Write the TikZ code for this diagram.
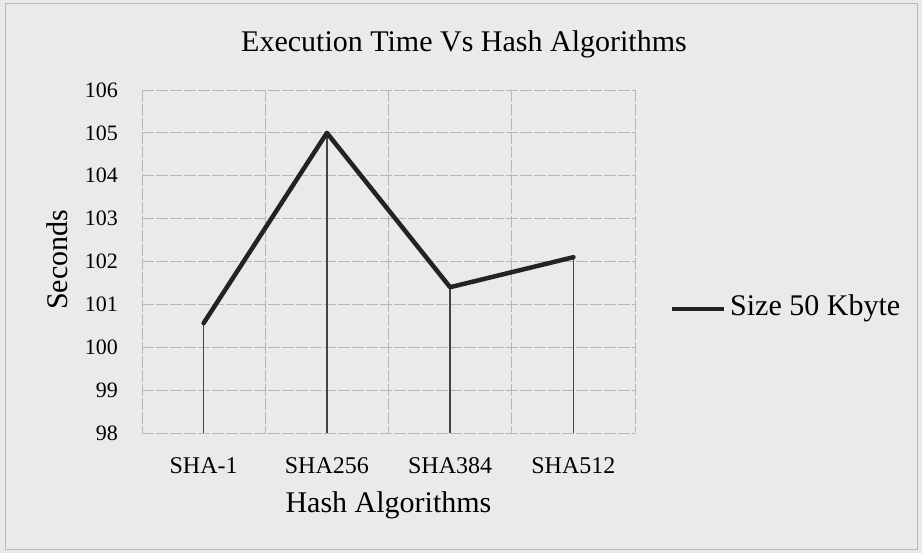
\documentclass[tikz,border=0pt]{standalone}
\usepackage{fontspec}
\setmainfont{Liberation Serif}
\definecolor{bgc}{RGB}{233,235,234}
\definecolor{gridc}{RGB}{180,183,183}
\definecolor{linec}{RGB}{35,35,35}
\begin{document}
\begin{tikzpicture}[x=1pt,y=-1pt,
  gridline/.style={draw=gridc, line width=0.9pt, dash pattern=on 12pt off 2pt},
  ytick/.style={anchor=east, font=\fontsize{22}{24}\selectfont, inner sep=0pt},
  xtick/.style={anchor=base, font=\fontsize{24}{26}\selectfont, inner sep=0pt},
  bigtext/.style={font=\fontsize{30}{32}\selectfont, inner sep=0pt},
  series/.style={draw=linec, line width=4.5pt, line join=round, line cap=round},
  dropline/.style={draw=linec!85, line width=1.3pt}]
\fill[bgc] (0,0) rectangle (922,553);
\useasboundingbox (0,0) rectangle (922,553);
\draw[gray!55, line width=0.8pt] (5,3) rectangle (917,549);
% grid
\foreach \i in {0,...,8} {
  \draw[gridline] (142,{433-\i*42.875}) -- (635,{433-\i*42.875});
  \pgfmathtruncatemacro\v{98+\i}
  \node[ytick] (yl\i) at (118,{433-\i*42.875}) {\v};
}
\foreach \x in {142,265.25,388.5,511.75,635} \draw[gridline] (\x,90) -- (\x,433);
% data points
\coordinate (p1) at (203.6,323.2);
\coordinate (p2) at (326.9,132.9);
\coordinate (p3) at (450.1,287.2);
\coordinate (p4) at (573.4,257.2);
\coordinate (b1) at (203.6,433);
\coordinate (b2) at (326.9,433);
\coordinate (b3) at (450.1,433);
\coordinate (b4) at (573.4,433);
\foreach \k in {1,2,3,4} \draw[dropline] (p\k) -- (b\k);
\draw[series] (p1) -- (p2) -- (p3) -- (p4);
% x tick labels
\node[xtick] (x1) at (203.6,474) {SHA-1};
\node[xtick] (x2) at (326.9,474) {SHA256};
\node[xtick] (x3) at (450.1,474) {SHA384};
\node[xtick] (x4) at (573.4,474) {SHA512};
% titles
\node[bigtext, anchor=base] (title) at (464,52) {Execution Time Vs Hash Algorithms};
\node[bigtext, anchor=base] (xtitle) at (388.5,512) {Hash Algorithms};
\node[bigtext, rotate=90] (ytitle) at (57,260) {Seconds};
% legend
\coordinate (l1) at (672,309);
\coordinate (l2) at (724,309);
\draw[draw=linec, line width=4pt] (l1) -- (l2);
\node[bigtext, anchor=base west] (legend) at (730,316) {Size 50 Kbyte};
\end{tikzpicture}
\end{document}
